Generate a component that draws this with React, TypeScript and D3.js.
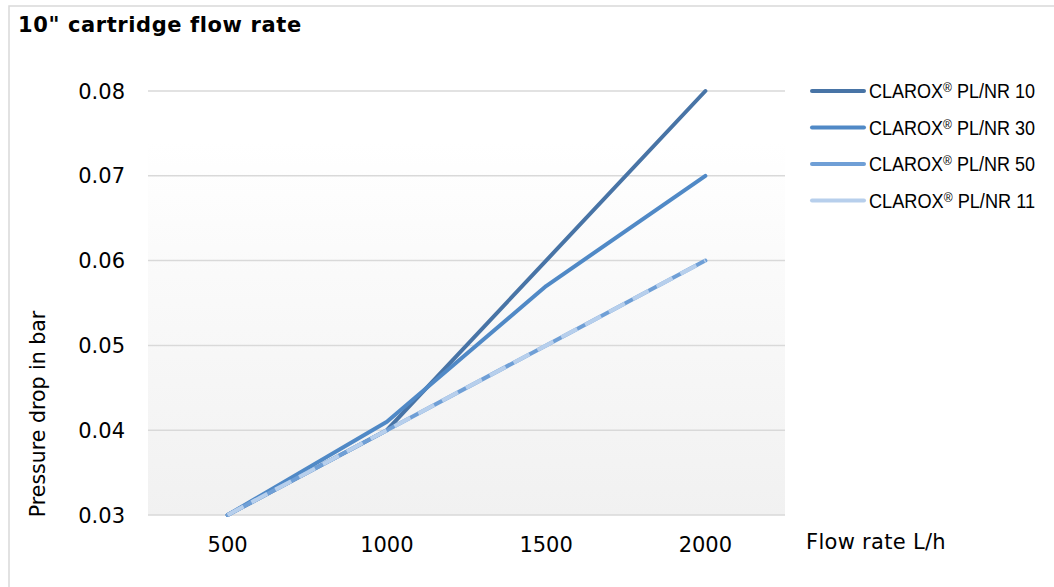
import React from "react";
import * as d3 from "d3";

const categories = [500, 1000, 1500, 2000];
const seriesNames = ["CLAROX® PL/NR 10", "CLAROX® PL/NR 30", "CLAROX® PL/NR 50", "CLAROX® PL/NR 11"];
const nr10 = [0.03, 0.04, 0.06, 0.08];
const nr30 = [0.03, 0.041, 0.057, 0.07];
const nr50 = [0.03, 0.04, 0.05, 0.06];
const nr11 = [0.03, 0.04, 0.05, 0.06];
const yTicks = [0.03, 0.04, 0.05, 0.06, 0.07, 0.08];
const colors = ["#4874a6", "#5089c6", "#6f9fd6", "#b7cfec"];

const W = 1054;
const H = 587;
const plot = { left: 148, right: 785, top: 91, bottom: 515 };

export default function App() {
  const x = d3.scaleBand<number>().domain(categories).range([plot.left, plot.right]);
  const y = d3.scaleLinear().domain([0.03, 0.08]).range([plot.bottom, plot.top]);
  const line = d3
    .line<number>()
    .x((_, i) => (x(categories[i]) as number) + x.bandwidth() / 2)
    .y((d) => y(d));
  const all = [nr10, nr30, nr50, nr11];
  const sans = "'DejaVu Sans', Verdana, sans-serif";
  return (
    <svg width={W} height={H} style={{ position: "absolute", left: 0, top: 0 }}>
      <defs>
        <linearGradient id="bg" x1="0" y1="0" x2="0" y2="1">
          <stop offset="0" stopColor="#ffffff" />
          <stop offset="0.12" stopColor="#ffffff" />
          <stop offset="1" stopColor="#f1f1f1" />
        </linearGradient>
      </defs>
      <rect x={0} y={0} width={W} height={H} fill="#fff" />
      <rect x={9} y={6} width={W + 10} height={H + 10} fill="none" stroke="#d9d9d9" strokeWidth={1.5} />
      <text x={18} y={32} fontFamily={sans} fontWeight="bold" fontSize={21} letterSpacing={0.6} fill="#000">
        10" cartridge flow rate
      </text>
      <rect x={plot.left} y={plot.top} width={plot.right - plot.left} height={plot.bottom - plot.top} fill="url(#bg)" />
      {yTicks.map((t) => (
        <g key={t}>
          <line x1={plot.left} x2={plot.right} y1={y(t)} y2={y(t)} stroke="#d9d9d9" strokeWidth={1.5} />
          <text x={125} y={y(t)} dy="0.36em" textAnchor="end" fontFamily={sans} fontSize={21} fill="#000">
            {d3.format(".2f")(t)}
          </text>
        </g>
      ))}
      {categories.map((c) => (
        <text key={c} x={(x(c) as number) + x.bandwidth() / 2} y={552} textAnchor="middle" fontFamily={sans} fontSize={21} fill="#000">
          {c}
        </text>
      ))}
      <text x={806} y={549} fontFamily={sans} fontSize={21} letterSpacing={0.3} fill="#000">
        Flow rate L/h
      </text>
      <text transform="translate(45,414) rotate(-90)" textAnchor="middle" fontFamily={sans} fontSize={20.5} fill="#000">
        Pressure drop in bar
      </text>
      {all.map((s, i) => (
        <path
          key={i}
          d={line(s) as string}
          fill="none"
          stroke={colors[i]}
          strokeWidth={4}
          strokeLinecap={i === 3 ? "butt" : "round"}
          strokeLinejoin="round"
          strokeDasharray={i === 3 ? "18 9" : undefined}
        />
      ))}
      {seriesNames.map((n, i) => {
        const ly = 91 + i * 36.5;
        const [a, b] = n.split("®");
        return (
          <g key={n}>
            <line x1={812} x2={864} y1={ly} y2={ly} stroke={colors[i]} strokeWidth={4} strokeLinecap="round" />
            <text
              x={869}
              y={ly + 7}
              fontFamily="'Liberation Sans', Arial, sans-serif"
              fontSize={19.5}
              textLength={166}
              lengthAdjust="spacingAndGlyphs"
              fill="#000"
            >
              {a}
              <tspan fontSize={13} dy={-6}>®</tspan>
              <tspan dy={6}>{b}</tspan>
            </text>
          </g>
        );
      })}
    </svg>
  );
}
